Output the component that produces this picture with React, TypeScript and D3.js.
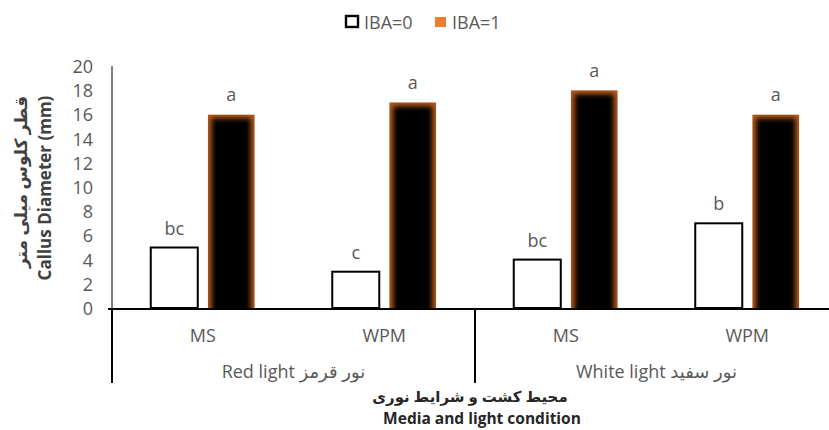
import React from 'react';
import * as d3 from 'd3';

const media = ['MS', 'WPM', 'MS', 'WPM'];
const lights = ['Red light نور قرمز', 'White light نور سفید'];
const seriesNames = ['IBA=0', 'IBA=1'];
const iba0 = [5, 3, 4, 7];
const iba1 = [16, 17, 18, 16];
const letters0 = ['bc', 'c', 'bc', 'b'];
const letters1 = ['a', 'a', 'a', 'a'];
const yTicks = [0, 2, 4, 6, 8, 10, 12, 14, 16, 18, 20];

const W = 829;
const H = 430;
const left = 112;
const right = 838;
const base = 308;
const top = 66;
const gray = '#595959';
const font = "'Open Sans', 'DejaVu Sans', sans-serif";

const App: React.FC = () => {
  const keys = media.map((_, i) => String(i));
  const x0 = d3.scaleBand<string>().domain(keys).range([left, right]);
  const bw = x0.bandwidth();
  const x1 = d3.scaleBand<string>()
    .domain(seriesNames)
    .range([bw / 2 - 52, bw / 2 + 52])
    .paddingInner(0.175);
  const xg = d3.scaleBand<string>().domain(lights).range([left, right]);
  const y = d3.scaleLinear().domain([0, 20]).range([base, top]);

  return (
    <svg width={W} height={H} style={{ position: 'absolute', left: 0, top: 0, background: '#fff' }} fontFamily={font}>
      <defs>
        <filter id="soft" x="-50%" y="-20%" width="200%" height="140%">
          <feGaussianBlur stdDeviation="2.8" />
        </filter>
        {keys.map((k, i) => (
          <clipPath id={`clip-${i}`} key={k}>
            <rect x={x0(k)! + x1('IBA=1')!} y={y(iba1[i])} width={x1.bandwidth()} height={base - y(iba1[i])} />
          </clipPath>
        ))}
      </defs>

      {/* legend */}
      <rect x={346} y={16} width={12} height={11} fill="#fff" stroke="#000" strokeWidth={2.4} />
      <text x={364} y={22} dominantBaseline="central" fontSize={18} fill={gray}>{seriesNames[0]}</text>
      <rect x={435} y={17} width={11} height={10} fill="#ED7D31" />
      <text x={452} y={22} dominantBaseline="central" fontSize={18} fill={gray}>{seriesNames[1]}</text>

      {/* y axis */}
      <line x1={left} x2={left} y1={y(20)} y2={base} stroke="#000" strokeWidth={1} />
      {yTicks.map(t => (
        <text key={t} x={93} y={y(t)} textAnchor="end" dominantBaseline="central" fontSize={18} fill={gray}>{t}</text>
      ))}
      <text transform={`translate(20,182) rotate(-90)`} textAnchor="middle" dominantBaseline="central" fontSize={17} fontWeight="bold" fill="#404040">قطر کلوس میلی متر</text>
      <text transform={`translate(44,188) rotate(-90)`} textAnchor="middle" dominantBaseline="central" fontSize={17} fontWeight="bold" fill="#404040">Callus Diameter (mm)</text>

      {/* bars */}
      {keys.map((k, i) => {
        const bx0 = x0(k)! + x1('IBA=0')!;
        const bx1 = x0(k)! + x1('IBA=1')!;
        const w = x1.bandwidth();
        return (
          <g key={k}>
            <rect x={bx0} y={y(iba0[i])} width={w} height={base - y(iba0[i])} fill="#fff" stroke="#000" strokeWidth={2} />
            <g clipPath={`url(#clip-${i})`}>
              <rect x={bx1} y={y(iba1[i])} width={w} height={base - y(iba1[i])} fill="#b35a1a" />
              <rect x={bx1 + 4} y={y(iba1[i]) + 4} width={w - 8} height={base - y(iba1[i])} fill="#000" filter="url(#soft)" />
            </g>
            <text x={bx0 + w / 2} y={y(iba0[i]) - 20} textAnchor="middle" dominantBaseline="central" fontSize={18} fill={gray}>{letters0[i]}</text>
            <text x={bx1 + w / 2} y={y(iba1[i]) - 20} textAnchor="middle" dominantBaseline="central" fontSize={18} fill={gray}>{letters1[i]}</text>
            <text x={x0(k)! + bw / 2} y={335} textAnchor="middle" dominantBaseline="central" fontSize={18} fill={gray}>{media[i]}</text>
          </g>
        );
      })}

      {/* category axis box */}
      <line x1={left - 4} x2={W} y1={base + 1} y2={base + 1} stroke="#000" strokeWidth={2} />
      {lights.map(g => (
        <g key={g}>
          <line x1={xg(g)!} x2={xg(g)!} y1={base} y2={383} stroke="#000" strokeWidth={2} />
          <text x={xg(g)! + xg.bandwidth() / 2} y={371} textAnchor="middle" dominantBaseline="central" fontSize={18} fill={gray}>{g}</text>
        </g>
      ))}

      {/* x title */}
      <text x={470} y={396} textAnchor="middle" dominantBaseline="central" fontSize={15} fontWeight="bold" fill="#262626">محیط کشت و شرایط نوری</text>
      <text x={482} y={418} textAnchor="middle" dominantBaseline="central" fontSize={15.5} fontWeight="bold" fill="#262626">Media and light condition</text>
    </svg>
  );
};

export default App;
